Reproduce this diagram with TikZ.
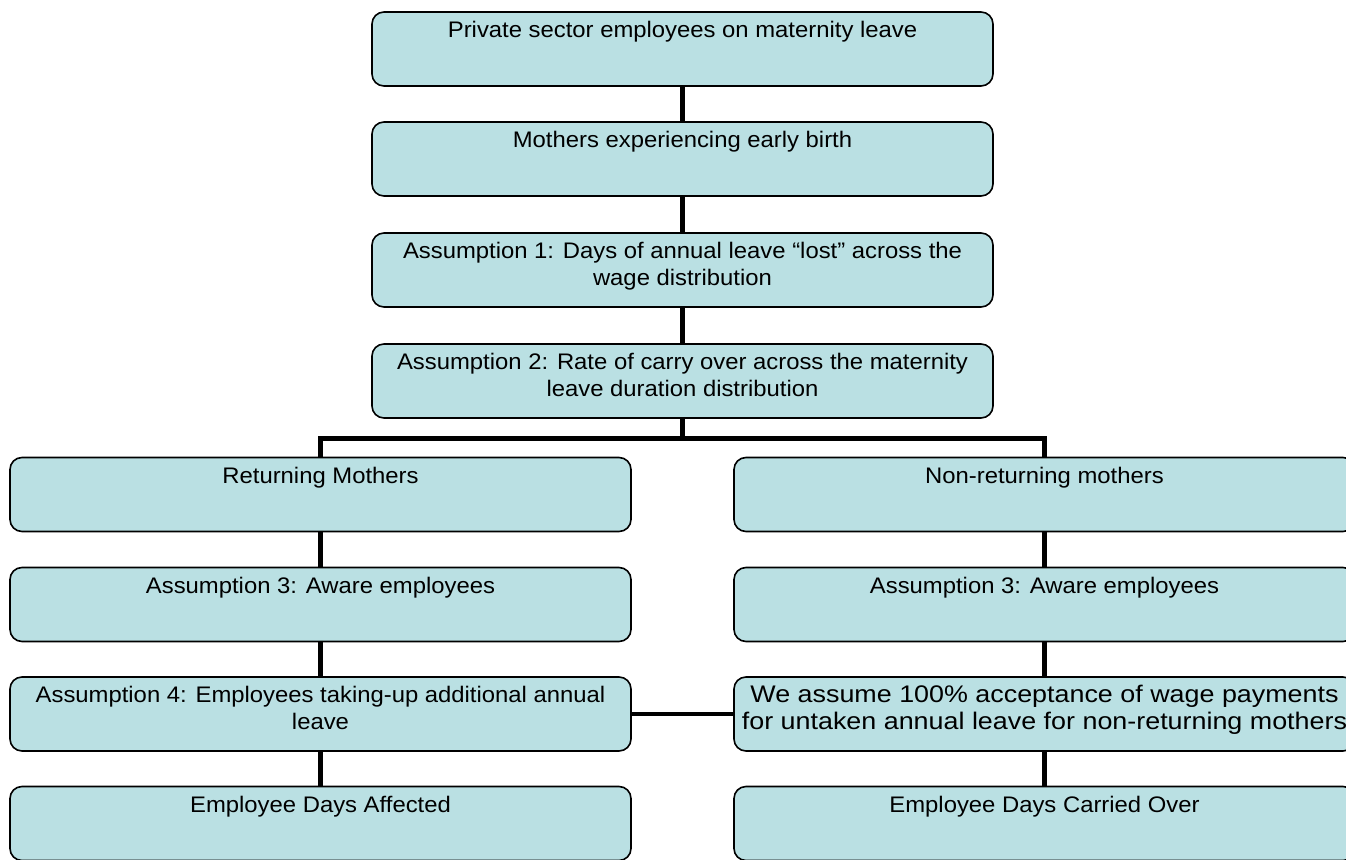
\documentclass[tikz,border=0pt]{standalone}
\usepackage{fontspec}
\setmainfont{Liberation Sans}[FakeStretch=1.06]
\newfontfamily\widefont{Liberation Sans}[FakeStretch=1.12]
\definecolor{boxfill}{RGB}{186,224,227}
% text block placed at the top of a box
\newcommand{\boxtext}[1]{\parbox[c][60pt][t]{610pt}{\centering\fontsize{22.5}{27}\selectfont\strut #1}}
\newcommand{\widetext}[1]{\parbox[c][60pt][t]{610pt}{\centering\widefont\fontsize{24}{27}\selectfont #1}}
\newcommand{\fullline}[1]{\makebox[610pt][c]{\strut #1}}
\begin{document}
\begin{tikzpicture}[x=1pt,y=-1pt,
  box/.style={draw=black, line width=1.6pt, fill=boxfill, rounded corners=12pt,
    minimum width=621pt, minimum height=74pt, inner sep=0pt},
  link/.style={line width=5pt},
  thinlink/.style={line width=3.4pt}]
\useasboundingbox (0,0) rectangle (1346,859);
\clip (0,0) rectangle (1346,859);

% main trunk
\node[box] (b1) at (682.5,49)  {\boxtext{Private sector employees on maternity leave}};
\node[box] (b2) at (682.5,159) {\boxtext{Mothers experiencing early birth}};
\node[box] (b3) at (682.5,270) {\boxtext{Assumption 1: Days of annual leave “lost” across the\\ wage distribution}};
\node[box] (b4) at (682.5,381) {\boxtext{Assumption 2: Rate of carry over across the maternity\\ leave duration distribution}};

% returning branch
\node[box] (l1) at (320.5,494.5) {\boxtext{Returning Mothers}};
\node[box] (l2) at (320.5,604.5) {\boxtext{Assumption 3: Aware employees}};
\node[box] (l3) at (320.5,714)   {\boxtext{Assumption 4: Employees taking-up additional annual\\ leave}};
\node[box] (l4) at (320.5,823.5) {\boxtext{Employee Days Affected}};

% non-returning branch
\node[box] (r1) at (1044.5,494.5) {\boxtext{Non-returning mothers}};
\node[box] (r2) at (1044.5,604.5) {\boxtext{Assumption 3: Aware employees}};
\node[box] (r3) at (1044.5,714)   {\widetext{\fullline{We assume 100\% acceptance of wage payments}\\ \fullline{for untaken annual leave for non-returning mothers}}};
\node[box] (r4) at (1044.5,823.5) {\boxtext{Employee Days Carried Over}};

% connectors
\coordinate (split) at (682.5,438);
\draw[link] (b1.south) -- (b2.north);
\draw[link] (b2.south) -- (b3.north);
\draw[link] (b3.south) -- (b4.north);
\draw[link] (b4.south) -- (split);
\draw[link] (l1.north) |- (split) -| (r1.north);
\draw[link] (l1.south) -- (l2.north);
\draw[link] (l2.south) -- (l3.north);
\draw[link] (l3.south) -- (l4.north);
\draw[link] (r1.south) -- (r2.north);
\draw[link] (r2.south) -- (r3.north);
\draw[link] (r3.south) -- (r4.north);
\draw[thinlink] (l3.east) -- (r3.west);
\end{tikzpicture}
\end{document}
